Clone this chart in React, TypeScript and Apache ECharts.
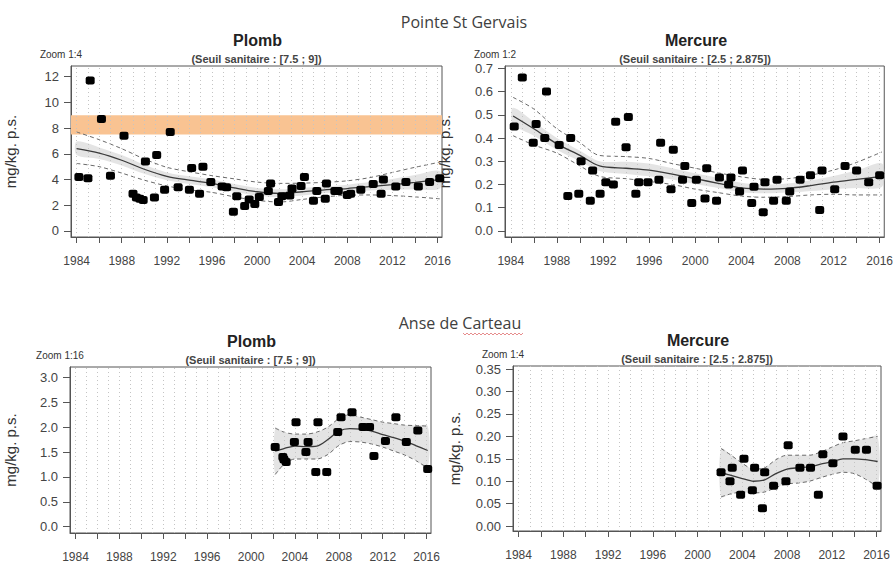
import React, { useEffect, useRef } from "react";
import * as echarts from "echarts";

// ---------- axis ticks ----------
const tickYears = [1984, 1986, 1988, 1990, 1992, 1994, 1996, 1998, 2000, 2002, 2004, 2006, 2008, 2010, 2012, 2014, 2016];
const labelYears = [1984, 1988, 1992, 1996, 2000, 2004, 2008, 2012, 2016];
const gridYears = [1984, 1985, 1986, 1987, 1988, 1989, 1990, 1991, 1992, 1993, 1994, 1995, 1996, 1997, 1998, 1999, 2000, 2001, 2002, 2003, 2004, 2005, 2006, 2007, 2008, 2009, 2010, 2011, 2012, 2013, 2014, 2015, 2016];
const pbTicksPSG = [0, 2, 4, 6, 8, 10, 12];
const hgTicksPSG = [0, 0.1, 0.2, 0.3, 0.4, 0.5, 0.6, 0.7];
const pbTicksAC = [0, 0.5, 1, 1.5, 2, 2.5, 3];
const hgTicksAC = [0, 0.05, 0.1, 0.15, 0.2, 0.25, 0.3, 0.35];
const seuilPb = [7.5, 9];

// ---------- Pointe St Gervais : Plomb ----------
const psgPbPoints = [
  [1984.2, 4.2], [1985.0, 4.1], [1985.2, 11.7], [1986.2, 8.7], [1987.0, 4.3], [1988.2, 7.4],
  [1989.0, 2.9], [1989.3, 2.6], [1989.6, 2.5], [1989.9, 2.4], [1990.1, 5.4], [1990.9, 2.6],
  [1991.1, 5.9], [1991.8, 3.2], [1992.3, 7.7], [1993.0, 3.4], [1994.0, 3.2], [1994.2, 4.9],
  [1994.9, 2.9], [1995.2, 5.0], [1995.9, 3.8], [1996.9, 3.45], [1997.3, 3.4], [1997.9, 1.5],
  [1998.2, 2.7], [1998.9, 1.95], [1999.3, 2.45], [1999.8, 2.1], [2000.2, 2.65], [2001.0, 3.1],
  [2001.2, 3.7], [2001.9, 2.25], [2002.2, 2.7], [2002.9, 2.75], [2003.1, 3.3], [2003.9, 3.5],
  [2004.2, 4.2], [2005.0, 2.35], [2005.3, 3.1], [2006.05, 2.5], [2006.15, 3.7], [2006.9, 3.1],
  [2007.2, 3.1], [2008.0, 2.8], [2008.3, 2.9], [2009.2, 3.2], [2010.3, 3.65], [2011.0, 2.9],
  [2011.2, 4.0], [2012.3, 3.45], [2013.2, 3.8], [2014.3, 3.45], [2015.3, 3.8], [2016.2, 4.1],
];
const psgPbCurveYears = [1984.0, 1986, 1988, 1990, 1992, 1994, 1996, 1998, 2000, 2002, 2004, 2006, 2008, 2010, 2012, 2014, 2016.2];
const psgPbTrend = [6.4, 6.05, 5.5, 4.8, 4.25, 3.95, 3.7, 3.35, 3.05, 2.93, 3.05, 3.2, 3.3, 3.45, 3.6, 3.78, 4.0];
const psgPbUpper = [7.7, 7.1, 6.4, 5.6, 4.95, 4.6, 4.3, 4.05, 3.8, 3.7, 3.72, 3.78, 3.9, 4.15, 4.55, 4.95, 5.35];
const psgPbLower = [5.25, 5.0, 4.5, 3.95, 3.5, 3.2, 3.0, 2.65, 2.38, 2.25, 2.45, 2.65, 2.78, 2.8, 2.75, 2.65, 2.5];
const psgPbFillHi = [6.95, 6.5, 5.9, 5.15, 4.55, 4.25, 4.0, 3.65, 3.35, 3.25, 3.35, 3.45, 3.6, 3.8, 4.05, 4.35, 4.65];
const psgPbFillLo = [5.9, 5.6, 5.1, 4.45, 3.95, 3.65, 3.4, 3.05, 2.75, 2.62, 2.75, 2.95, 3.05, 3.15, 3.2, 3.25, 3.3];

// ---------- Pointe St Gervais : Mercure ----------
const psgHgPoints = [
  [1984.3, 0.45], [1985.0, 0.66], [1985.95, 0.38], [1986.2, 0.46], [1986.95, 0.40], [1987.1, 0.60],
  [1988.2, 0.37], [1988.95, 0.15], [1989.2, 0.40], [1989.9, 0.16], [1990.1, 0.30], [1990.9, 0.13],
  [1991.1, 0.26], [1991.75, 0.16], [1992.25, 0.21], [1992.9, 0.20], [1993.1, 0.47], [1994.0, 0.36],
  [1994.2, 0.49], [1994.85, 0.16], [1995.1, 0.21], [1995.9, 0.21], [1996.85, 0.22], [1997.0, 0.38],
  [1997.9, 0.18], [1998.1, 0.35], [1998.9, 0.22], [1999.1, 0.28], [1999.7, 0.12], [2000.1, 0.22],
  [2000.85, 0.14], [2001.0, 0.27], [2001.85, 0.13], [2002.1, 0.23], [2002.9, 0.20], [2003.1, 0.23],
  [2003.85, 0.17], [2004.1, 0.26], [2004.9, 0.12], [2005.1, 0.19], [2005.9, 0.08], [2006.05, 0.21],
  [2006.8, 0.13], [2007.1, 0.22], [2007.9, 0.13], [2008.2, 0.17], [2009.1, 0.22], [2010.0, 0.24],
  [2010.8, 0.09], [2011.0, 0.26], [2012.1, 0.18], [2013.0, 0.28], [2014.0, 0.26], [2015.05, 0.21],
  [2016.0, 0.24],
];
const psgHgCurveYears = [1984.2, 1986, 1988, 1990, 1991.7, 1994, 1996, 1998, 2000, 2002, 2004, 2006, 2008, 2010, 2012, 2014, 2016.2];
const psgHgTrend = [0.495, 0.44, 0.375, 0.325, 0.28, 0.27, 0.262, 0.245, 0.225, 0.205, 0.185, 0.18, 0.183, 0.195, 0.21, 0.222, 0.235];
const psgHgUpper = [0.575, 0.525, 0.44, 0.38, 0.325, 0.32, 0.312, 0.29, 0.27, 0.25, 0.233, 0.222, 0.225, 0.24, 0.262, 0.295, 0.34];
const psgHgLower = [0.41, 0.37, 0.335, 0.28, 0.235, 0.225, 0.213, 0.2, 0.18, 0.165, 0.15, 0.145, 0.148, 0.155, 0.158, 0.155, 0.155];
const psgHgFillHi = [0.53, 0.47, 0.4, 0.345, 0.3, 0.298, 0.29, 0.27, 0.248, 0.228, 0.208, 0.2, 0.204, 0.218, 0.237, 0.26, 0.29];
const psgHgFillLo = [0.46, 0.41, 0.35, 0.3, 0.258, 0.245, 0.235, 0.222, 0.202, 0.185, 0.167, 0.162, 0.165, 0.172, 0.18, 0.185, 0.19];

// ---------- Anse de Carteau : Plomb ----------
const acPbPoints = [
  [2002.2, 1.6], [2002.9, 1.4], [2003.0, 1.35], [2003.2, 1.3], [2003.95, 1.7], [2004.1, 2.1],
  [2005.0, 1.5], [2005.2, 1.7], [2005.9, 1.1], [2006.1, 2.1], [2006.9, 1.1], [2007.9, 1.9],
  [2008.2, 2.2], [2009.2, 2.3], [2010.2, 2.0], [2010.8, 2.0], [2011.2, 1.42], [2012.25, 1.72],
  [2013.2, 2.2], [2014.15, 1.7], [2015.2, 1.93], [2016.1, 1.16],
];
const acPbCurveYears = [2002.2, 2003, 2004, 2005, 2006, 2007, 2008, 2009, 2010, 2011, 2012, 2013, 2014, 2015, 2016.1];
const acPbTrend = [1.52, 1.57, 1.62, 1.61, 1.62, 1.75, 1.92, 1.97, 1.96, 1.92, 1.85, 1.79, 1.72, 1.63, 1.53];
const acPbUpper = [1.98, 1.9, 1.86, 1.86, 1.9, 2.0, 2.17, 2.25, 2.2, 2.15, 2.1, 2.07, 2.04, 2.03, 2.02];
const acPbLower = [1.05, 1.25, 1.36, 1.36, 1.36, 1.45, 1.63, 1.71, 1.7, 1.66, 1.6, 1.52, 1.44, 1.33, 1.18];

// ---------- Anse de Carteau : Mercure ----------
const acHgPoints = [
  [2002.1, 0.12], [2002.9, 0.10], [2003.1, 0.13], [2003.85, 0.07], [2004.15, 0.15], [2004.9, 0.08],
  [2005.1, 0.13], [2005.8, 0.04], [2006.0, 0.12], [2006.8, 0.09], [2007.9, 0.10], [2008.1, 0.18],
  [2009.15, 0.13], [2010.1, 0.13], [2010.8, 0.07], [2011.2, 0.16], [2012.1, 0.14], [2013.0, 0.20],
  [2014.1, 0.17], [2015.1, 0.17], [2016.05, 0.09],
];
const acHgCurveYears = [2002.1, 2003, 2004, 2005, 2006, 2007, 2008, 2009, 2010, 2011, 2012, 2013, 2014, 2015, 2016.1];
const acHgTrend = [0.12, 0.113, 0.106, 0.1, 0.103, 0.117, 0.127, 0.13, 0.132, 0.138, 0.143, 0.15, 0.15, 0.148, 0.144];
const acHgUpper = [0.173, 0.158, 0.14, 0.127, 0.13, 0.148, 0.158, 0.158, 0.158, 0.165, 0.176, 0.186, 0.19, 0.195, 0.2];
const acHgLower = [0.065, 0.072, 0.076, 0.074, 0.076, 0.086, 0.094, 0.096, 0.1, 0.108, 0.115, 0.12, 0.117, 0.105, 0.088];

const FONT = "'Liberation Sans', Arial, sans-serif";

type Panel = {
  grid: { left: number; top: number; width: number; height: number };
  yMin: number; yMax: number; yTicks: number[]; decimals: number; nameGap: number;
  points: number[][]; cx: number[]; trend: number[]; upper: number[]; lower: number[];
  fillHi: number[]; fillLo: number[]; band?: number[];
  title: string; subtitle: string; zoom: string;
};

const panels: Panel[] = [
  {
    grid: { left: 71, top: 66, width: 371, height: 171 }, yMin: -0.47, yMax: 12.83, yTicks: pbTicksPSG, decimals: 0, nameGap: 53,
    points: psgPbPoints, cx: psgPbCurveYears, trend: psgPbTrend, upper: psgPbUpper, lower: psgPbLower,
    fillHi: psgPbFillHi, fillLo: psgPbFillLo, band: seuilPb,
    title: "Plomb", subtitle: "(Seuil sanitaire : [7.5 ; 9])", zoom: "Zoom 1:4",
  },
  {
    grid: { left: 505, top: 66, width: 380, height: 171 }, yMin: -0.026, yMax: 0.71, yTicks: hgTicksPSG, decimals: 1, nameGap: 53,
    points: psgHgPoints, cx: psgHgCurveYears, trend: psgHgTrend, upper: psgHgUpper, lower: psgHgLower,
    fillHi: psgHgFillHi, fillLo: psgHgFillLo,
    title: "Mercure", subtitle: "(Seuil sanitaire : [2.5 ; 2.875])", zoom: "Zoom 1:2",
  },
  {
    grid: { left: 70, top: 367, width: 361, height: 166 }, yMin: -0.126, yMax: 3.207, yTicks: pbTicksAC, decimals: 1, nameGap: 52,
    points: acPbPoints, cx: acPbCurveYears, trend: acPbTrend, upper: acPbUpper, lower: acPbLower,
    fillHi: acPbUpper, fillLo: acPbLower,
    title: "Plomb", subtitle: "(Seuil sanitaire : [7.5 ; 9])", zoom: "Zoom 1:16",
  },
  {
    grid: { left: 513, top: 366, width: 368, height: 165 }, yMin: -0.011, yMax: 0.357, yTicks: hgTicksAC, decimals: 2, nameGap: 51,
    points: acHgPoints, cx: acHgCurveYears, trend: acHgTrend, upper: acHgUpper, lower: acHgLower,
    fillHi: acHgUpper, fillLo: acHgLower,
    title: "Mercure", subtitle: "(Seuil sanitaire : [2.5 ; 2.875])", zoom: "Zoom 1:4",
  },
];

function buildOption() {
  const grids: any[] = [];
  const xAxes: any[] = [];
  const yAxes: any[] = [];
  const series: any[] = [];
  const graphics: any[] = [];

  panels.forEach((p, i) => {
    grids.push({ ...p.grid, show: true, borderColor: "#555", borderWidth: 1, backgroundColor: "transparent", containLabel: false });
    xAxes.push({
      type: "value", gridIndex: i, min: 1983.5, max: 2016.4,
      axisLine: { show: true, onZero: false, lineStyle: { color: "#555", width: 1 } },
      axisTick: { show: true, length: 6, customValues: tickYears, lineStyle: { color: "#555" } },
      axisLabel: { show: true, customValues: labelYears, margin: 18, fontSize: 12, color: "#444", fontFamily: FONT, formatter: (v: number) => String(v) },
      splitLine: { show: false },
    });
    yAxes.push({
      type: "value", gridIndex: i, min: p.yMin, max: p.yMax,
      name: "mg/kg. p.s.", nameLocation: "middle", nameGap: p.nameGap, nameRotate: 90,
      nameTextStyle: { fontSize: 15, color: "#333", fontFamily: FONT },
      axisLine: { show: true, onZero: false, lineStyle: { color: "#555", width: 1 } },
      axisTick: { show: true, length: 7, customValues: p.yTicks, lineStyle: { color: "#555" } },
      axisLabel: { show: true, customValues: p.yTicks, margin: 12, fontSize: 13, color: "#444", fontFamily: FONT, formatter: (v: number) => v.toFixed(p.decimals) },
      splitLine: { show: false },
    });

    // yearly dotted grid lines
    series.push({
      type: "line", xAxisIndex: i, yAxisIndex: i, data: [], silent: true, z: 1,
      markLine: {
        silent: true, symbol: ["none", "none"], label: { show: false }, animation: false,
        lineStyle: { type: [1, 3], color: "#c4c4c4", width: 1 },
        data: gridYears.map((y) => ({ xAxis: y })),
      },
    });

    if (p.band) {
      series.push({
        type: "line", xAxisIndex: i, yAxisIndex: i, data: [], silent: true, z: 2,
        markArea: {
          silent: true, itemStyle: { color: "#F9C392", opacity: 1 }, label: { show: false },
          data: [[{ yAxis: p.band[0] }, { yAxis: p.band[1] }]],
        },
      });
    }

    // confidence band fill
    const cx = p.cx, hi = p.fillHi, lo = p.fillLo;
    series.push({
      type: "custom", xAxisIndex: i, yAxisIndex: i, silent: true, z: 3, clip: true,
      data: [[cx[0], lo[0]]],
      renderItem: (_params: any, api: any) => {
        const pts: number[][] = [];
        for (let k = 0; k < cx.length; k++) pts.push(api.coord([cx[k], hi[k]]));
        for (let k = cx.length - 1; k >= 0; k--) pts.push(api.coord([cx[k], lo[k]]));
        return { type: "polygon", shape: { points: pts, smooth: 0.3 }, style: { fill: "rgba(205,205,205,0.55)", stroke: "none" } };
      },
    });

    const lineOf = (vals: number[], dashed: boolean, z: number) => ({
      type: "line", xAxisIndex: i, yAxisIndex: i, silent: true, z, showSymbol: false, smooth: 0.3,
      data: cx.map((x, k) => [x, vals[k]]),
      lineStyle: dashed ? { color: "#6a6a6a", width: 1, type: [4, 3] } : { color: "#3a3a3a", width: 1.3 },
    });
    series.push(lineOf(p.upper, true, 4));
    series.push(lineOf(p.lower, true, 4));
    series.push(lineOf(p.trend, false, 5));

    series.push({
      type: "scatter", xAxisIndex: i, yAxisIndex: i, silent: true, z: 6,
      symbol: "roundRect", symbolSize: [9, 8], itemStyle: { color: "#000", opacity: 1 },
      data: p.points,
    });

    const cxPix = p.grid.left + p.grid.width / 2;
    graphics.push({
      type: "text", x: cxPix + 1, y: p.grid.top - 26,
      style: { text: p.title, fontSize: 16, fontWeight: "bold", fontFamily: FONT, fill: "#222", align: "center", verticalAlign: "middle" },
    });
    graphics.push({
      type: "text", x: cxPix, y: p.grid.top - 7,
      style: { text: p.subtitle, fontSize: 11, fontWeight: "bold", fontFamily: FONT, fill: "#444", align: "center", verticalAlign: "middle" },
    });
    graphics.push({
      type: "text", x: p.grid.left - 10, y: p.grid.top - 12,
      style: { text: p.zoom, fontSize: 10, fontFamily: FONT, fill: "#333", align: "center", verticalAlign: "middle" },
    });
  });

  graphics.push({
    type: "text", x: 464, y: 22,
    style: { text: "Pointe St Gervais", fontSize: 16, fontFamily: "'Open Sans', sans-serif", fill: "#404040", align: "center", verticalAlign: "middle" },
  });
  graphics.push({
    type: "text", x: 460, y: 323,
    style: { text: "Anse de Carteau", fontSize: 16, fontFamily: "'Open Sans', sans-serif", fill: "#404040", align: "center", verticalAlign: "middle" },
  });
  const squiggle: number[][] = [];
  for (let k = 0; k <= 30; k++) squiggle.push([463 + k * 2, k % 2 === 0 ? 333 : 335]);
  graphics.push({ type: "polyline", shape: { points: squiggle }, style: { stroke: "#e07070", lineWidth: 0.8, fill: "none" } });

  return {
    animation: false,
    backgroundColor: "#ffffff",
    grid: grids,
    xAxis: xAxes,
    yAxis: yAxes,
    series,
    graphic: graphics,
  };
}

export default function App() {
  const ref = useRef<HTMLDivElement>(null);
  useEffect(() => {
    if (!ref.current) return;
    const chart = echarts.init(ref.current, undefined, { renderer: "svg" });
    chart.setOption(buildOption() as any);
    return () => chart.dispose();
  }, []);
  return <div ref={ref} style={{ position: "absolute", left: 0, top: 0, width: 896, height: 565 }} />;
}
